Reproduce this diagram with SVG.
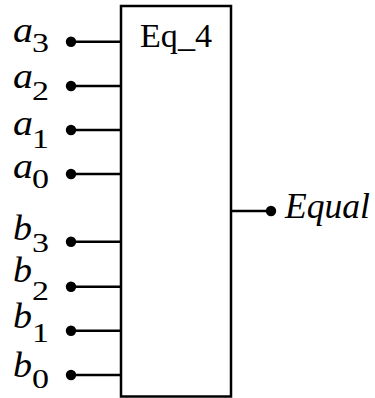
<svg xmlns="http://www.w3.org/2000/svg" width="375" height="398" viewBox="0 0 375 398">
<style>
.wire{stroke:#000;stroke-width:2.5;fill:none}
.dot{fill:#000}
.box{fill:#fff;stroke:#000;stroke-width:2.5}
.v{font-family:"Liberation Serif","DejaVu Serif",serif;font-style:italic;font-size:35px;fill:#000}
.s{font-family:"Liberation Serif","DejaVu Serif",serif;font-size:27px;fill:#000}
.t{font-family:"Liberation Serif","DejaVu Serif",serif;font-size:33px;fill:#000}
</style>
<g id="connectors">
<line class="wire" x1="71" y1="41.7" x2="121" y2="41.7"/>
<line class="wire" x1="71" y1="86" x2="121" y2="86"/>
<line class="wire" x1="71" y1="130" x2="121" y2="130"/>
<line class="wire" x1="71" y1="174" x2="121" y2="174"/>
<line class="wire" x1="71" y1="241.7" x2="121" y2="241.7"/>
<line class="wire" x1="71" y1="286.7" x2="121" y2="286.7"/>
<line class="wire" x1="71" y1="330.7" x2="121" y2="330.7"/>
<line class="wire" x1="71" y1="375" x2="121" y2="375"/>
<line class="wire" x1="231" y1="211" x2="271" y2="211"/>
</g>
<g id="Eq_4">
<rect class="box" x="121" y="6" width="110" height="390.5"/>
<text class="t" x="140" y="47" textLength="72" lengthAdjust="spacingAndGlyphs">Eq_4</text>
</g>
<g id="a3"><circle class="dot" cx="71" cy="41.7" r="5.2"/><text class="v" x="13" y="42" textLength="20" lengthAdjust="spacingAndGlyphs">a</text><text class="s" x="32" y="52" textLength="17" lengthAdjust="spacingAndGlyphs">3</text></g>
<g id="a2"><circle class="dot" cx="71" cy="86" r="5.2"/><text class="v" x="13" y="88" textLength="20" lengthAdjust="spacingAndGlyphs">a</text><text class="s" x="32" y="100" textLength="17" lengthAdjust="spacingAndGlyphs">2</text></g>
<g id="a1"><circle class="dot" cx="71" cy="130" r="5.2"/><text class="v" x="13" y="135" textLength="20" lengthAdjust="spacingAndGlyphs">a</text><text class="s" x="32" y="148" textLength="17" lengthAdjust="spacingAndGlyphs">1</text></g>
<g id="a0"><circle class="dot" cx="71" cy="174" r="5.2"/><text class="v" x="13" y="178" textLength="20" lengthAdjust="spacingAndGlyphs">a</text><text class="s" x="32" y="187.5" textLength="17" lengthAdjust="spacingAndGlyphs">0</text></g>
<g id="b3"><circle class="dot" cx="71" cy="241.7" r="5.2"/><text class="v" x="13" y="240" textLength="19" lengthAdjust="spacingAndGlyphs">b</text><text class="s" x="32" y="252" textLength="17" lengthAdjust="spacingAndGlyphs">3</text></g>
<g id="b2"><circle class="dot" cx="71" cy="286.7" r="5.2"/><text class="v" x="13" y="282" textLength="19" lengthAdjust="spacingAndGlyphs">b</text><text class="s" x="32" y="300" textLength="17" lengthAdjust="spacingAndGlyphs">2</text></g>
<g id="b1"><circle class="dot" cx="71" cy="330.7" r="5.2"/><text class="v" x="13" y="328" textLength="19" lengthAdjust="spacingAndGlyphs">b</text><text class="s" x="32" y="342" textLength="17" lengthAdjust="spacingAndGlyphs">1</text></g>
<g id="b0"><circle class="dot" cx="71" cy="375" r="5.2"/><text class="v" x="13" y="377" textLength="19" lengthAdjust="spacingAndGlyphs">b</text><text class="s" x="32" y="387.5" textLength="17" lengthAdjust="spacingAndGlyphs">0</text></g>
<g id="Equal"><circle class="dot" cx="271" cy="211" r="5.2"/><text class="v" x="285" y="218" textLength="85" lengthAdjust="spacingAndGlyphs">Equal</text></g>
</svg>
